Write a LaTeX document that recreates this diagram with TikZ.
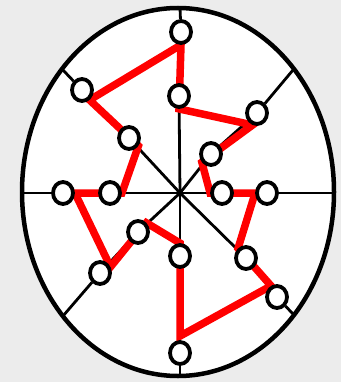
\documentclass[tikz,border=0pt]{standalone}
\usepackage{tikz}
\usetikzlibrary{positioning}
\usetikzlibrary{shapes.geometric}
\definecolor{figFondo}{RGB}{236,236,236}
\definecolor{figRojo}{RGB}{255,0,0}
\pgfdeclarelayer{fondo}
\pgfdeclarelayer{trazo}
\pgfsetlayers{fondo,trazo,main}
\tikzset{
  nodo/.style={
    ellipse, draw=black, line width=3.8pt, fill=white,
    minimum width=20pt, minimum height=22pt, inner sep=0pt
  },
  borde/.style={line width=4.5pt, draw=black, fill=white},
  radio/.style={line width=2.8pt, draw=black},
  ruta/.style={line width=7.5pt, draw=figRojo, line join=miter}
}

\begin{document}
\begin{tikzpicture}[x=1pt, y=-1pt]
  \node[nodo] (n1) at (181,32) {};
  \node[nodo] (n2) at (179,96) {};
  \node[nodo] (n3) at (82,90) {};
  \node[nodo] (n4) at (129,138) {};
  \node[nodo] (n5) at (257,113) {};
  \node[nodo] (n6) at (211,154) {};
  \node[nodo] (n7) at (63,193) {};
  \node[nodo] (n8) at (110,193) {};
  \node[nodo] (n9) at (222,193) {};
  \node[nodo] (n10) at (267,193) {};
  \node[nodo] (n11) at (138,232) {};
  \node[nodo] (n12) at (100,273) {};
  \node[nodo] (n13) at (180,256) {};
  \node[nodo] (n14) at (180,353) {};
  \node[nodo] (n15) at (246,258) {};
  \node[nodo] (n16) at (277,297) {};

  \coordinate (o) at (180,193);
  \coordinate (bN) at (180,8);
  \coordinate (bS) at (180,376);
  \coordinate (bO) at (22,193);
  \coordinate (bE) at (334,193);
  \coordinate (bNO) at (62,69);
  \coordinate (bNE) at (293,70);
  \coordinate (bSO) at (63,316);
  \coordinate (bSE) at (293,314);

  \begin{pgfonlayer}{fondo}
    \fill[figFondo] (0,0) rectangle (341,382);
    \draw[borde] (178,192) ellipse [x radius=156pt, y radius=184pt];
    \draw[radio] (o) -- (n2) -- (n1) -- (bN);
    \draw[radio] (o) -- (n13) -- (n14) -- (bS);
    \draw[radio] (o) -- (n8) -- (n7) -- (bO);
    \draw[radio] (o) -- (n9) -- (n10) -- (bE);
    \draw[radio] (o) -- (n4) -- (n3) -- (bNO);
    \draw[radio] (o) -- (n6) -- (n5) -- (bNE);
    \draw[radio] (o) -- (n11) -- (n12) -- (bSO);
    \draw[radio] (o) -- (n15) -- (n16) -- (bSE);
  \end{pgfonlayer}

  \begin{pgfonlayer}{trazo}
    \draw[ruta] (n1.south) -- (n2.south) -- (n5.250) -- (n6.222)
      -- (n9.west) -- (n10.west) -- (n15.130) -- (n16.118)
      -- ([yshift=4pt]n14.north) -- (n13.north) -- (n11.48) -- (n12.30)
      -- (n7.east) -- (n8.east) -- (n4.-40) -- (n3.-53) -- cycle;
  \end{pgfonlayer}
\end{tikzpicture}
\end{document}
